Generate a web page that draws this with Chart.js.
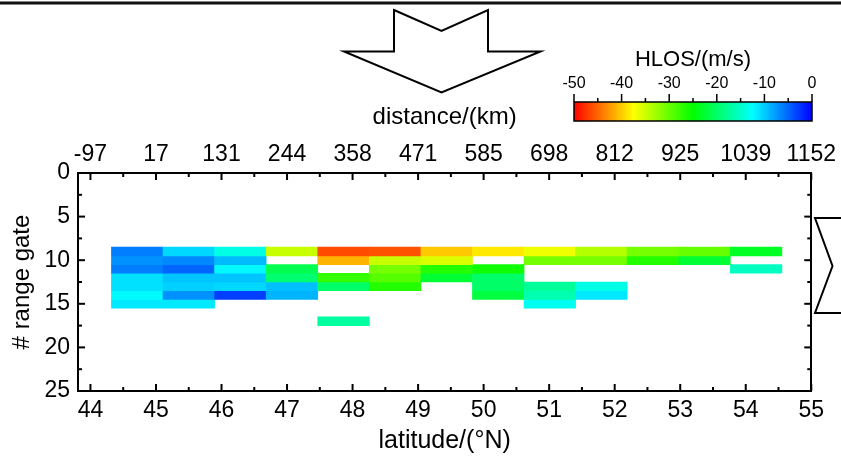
<!DOCTYPE html>
<html>
<head>
<meta charset="utf-8">
<script src="https://cdn.jsdelivr.net/npm/chart.js@4.4.1/dist/chart.umd.min.js"></script>
<style>
  html, body { margin: 0; padding: 0; background: #fff; }
  #c { display: block; }
</style>
</head>
<body>
<canvas id="c" width="841" height="456"></canvas>
<script>
// ---------------- DATA ----------------
const latitudes = [44.714, 45.501, 46.288, 47.075, 47.862, 48.649, 49.436, 50.223, 51.010, 51.797, 52.584, 53.371, 54.158];
const gates = [9, 10, 11, 12, 13, 14, 15, 17];
const hlosGate9  = [-6.2, -10.6, -13.8, -34.8, -46.3, -46.0, -40.2, -38.6, -36.7, -33.8, -30.8, -30.0, -23.3];
const hlosGate10 = [-7.2, -6.7, -9.2, null, -41.2, -34.8, -35.8, null, -30.8, -30.8, -26.7, -22.5, null];
const hlosGate11 = [-6.2, -5.0, -12.2, -21.2, null, -30.8, -26.7, -25.8, null, null, null, null, -15.6];
const hlosGate12 = [-11.0, -9.6, -9.6, -19.5, -27.5, -29.2, -22.5, -20.0, null, null, null, null, null];
const hlosGate13 = [-11.0, -10.2, -10.6, -9.4, -20.0, -26.7, null, -20.0, -17.5, -13.8, null, null, null];
const hlosGate14 = [-12.3, -7.1, -3.1, -8.8, null, null, null, -21.8, -16.4, -11.4, null, null, null];
const hlosGate15 = [-11.4, -11.4, null, null, null, null, null, null, -13.2, null, null, null, null];
const hlosGate17 = [null, null, null, null, -17.2, null, null, null, null, null, null, null, null];
const hlosRows = [hlosGate9, hlosGate10, hlosGate11, hlosGate12, hlosGate13, hlosGate14, hlosGate15, hlosGate17];

const latTicks = [44, 45, 46, 47, 48, 49, 50, 51, 52, 53, 54, 55];
const distanceLabels = ['-97', '17', '131', '244', '358', '471', '585', '698', '812', '925', '1039', '1152'];
const gateTicks = [0, 5, 10, 15, 20, 25];
const colorbarTicks = [-50, -40, -30, -20, -10, 0];
const colorbarMinorTicks = [-45, -35, -25, -15, -5];

// ---------------- STYLE ----------------
const FONT = '"Liberation Sans", Arial, Helvetica, sans-serif';
const HLOS_MIN = -50, HLOS_MAX = 0;
const cmapStops = [
  [0.00, [255, 0, 0]],
  [0.25, [255, 255, 0]],
  [0.50, [0, 255, 0]],
  [0.75, [0, 255, 255]],
  [1.00, [0, 0, 255]]
];
function hlosColor(v) {
  let t = (v - HLOS_MIN) / (HLOS_MAX - HLOS_MIN);
  t = Math.max(0, Math.min(1, t));
  for (let i = 1; i < cmapStops.length; i++) {
    const [t1, c1] = cmapStops[i];
    const [t0, c0] = cmapStops[i - 1];
    if (t <= t1) {
      const f = (t - t0) / (t1 - t0);
      const c = c0.map((a, k) => Math.round(a + (c1[k] - a) * f));
      return `rgb(${c[0]},${c[1]},${c[2]})`;
    }
  }
  return 'rgb(0,0,255)';
}

const datasets = gates.map((g, gi) => ({
  label: 'gate ' + g,
  data: latitudes.map((lat, i) => hlosRows[gi][i] == null ? null : { x: lat, y: [g - 0.5, g + 0.5], v: hlosRows[gi][i] }).filter(d => d),
  backgroundColor: ctx => (ctx.raw && ctx.raw.v != null) ? hlosColor(ctx.raw.v) : '#000',
  borderWidth: 0,
  grouped: false,
  barPercentage: 1,
  categoryPercentage: 1
}));

const decorPlugin = {
  id: 'decor',
  afterDraw(chart) {
    const ctx = chart.ctx;
    const { x, y } = chart.scales;
    const area = chart.chartArea;
    ctx.save();
    // top frame line
    ctx.fillStyle = '#111';
    ctx.fillRect(0, 1.5, chart.width, 3);

    // tick marks (inward)
    ctx.strokeStyle = '#000';
    ctx.lineWidth = 2;
    const MAJ = 7, MIN = 4;
    const line = (x0, y0, x1, y1) => { ctx.beginPath(); ctx.moveTo(x0, y0); ctx.lineTo(x1, y1); ctx.stroke(); };
    latTicks.forEach(v => { const px = x.getPixelForValue(v); line(px, area.bottom, px, area.bottom - MAJ); line(px, area.top, px, area.top + MAJ); });
    for (let i = 1; i < latTicks.length; i++) {
      const px = x.getPixelForValue((latTicks[i - 1] + latTicks[i]) / 2);
      line(px, area.bottom, px, area.bottom - MIN); line(px, area.top, px, area.top + MIN);
    }
    gateTicks.forEach(v => { const py = y.getPixelForValue(v); line(area.left, py, area.left + MAJ, py); line(area.right, py, area.right - MAJ, py); });
    for (let i = 1; i < gateTicks.length; i++) {
      const py = y.getPixelForValue((gateTicks[i - 1] + gateTicks[i]) / 2);
      line(area.left, py, area.left + MIN, py); line(area.right, py, area.right - MIN, py);
    }

    // top arrow (decorative)
    ctx.lineWidth = 2;
    ctx.lineJoin = 'miter';
    ctx.beginPath();
    ctx.moveTo(394, 10); ctx.lineTo(441.5, 31); ctx.lineTo(488, 10); ctx.lineTo(488, 51.5);
    ctx.lineTo(540.5, 51.5); ctx.lineTo(441.5, 92.5); ctx.lineTo(344, 51.5); ctx.lineTo(394, 51.5);
    ctx.closePath();
    ctx.stroke();
    // right arrow (decorative, clipped by canvas edge)
    ctx.beginPath();
    ctx.moveTo(842, 218); ctx.lineTo(815, 218); ctx.lineTo(832.5, 266); ctx.lineTo(815, 313); ctx.lineTo(842, 313);
    ctx.stroke();

    // colorbar
    const cb = { l: 574, r: 812, t: 102, b: 121 };
    const grad = ctx.createLinearGradient(cb.l, 0, cb.r, 0);
    cmapStops.forEach(([t, c]) => grad.addColorStop(t, `rgb(${c[0]},${c[1]},${c[2]})`));
    ctx.fillStyle = grad;
    ctx.fillRect(cb.l, cb.t, cb.r - cb.l, cb.b - cb.t);
    ctx.lineWidth = 1.5;
    ctx.strokeStyle = '#000';
    ctx.strokeRect(cb.l, cb.t, cb.r - cb.l, cb.b - cb.t);
    const cbx = v => cb.l + (v - HLOS_MIN) / (HLOS_MAX - HLOS_MIN) * (cb.r - cb.l);
    colorbarTicks.forEach(v => line(cbx(v), cb.t, cbx(v), cb.t - 8));
    colorbarMinorTicks.forEach(v => line(cbx(v), cb.t, cbx(v), cb.t - 4));
    ctx.fillStyle = '#000';
    ctx.textAlign = 'center';
    ctx.textBaseline = 'middle';
    ctx.font = '16px ' + FONT;
    colorbarTicks.forEach(v => ctx.fillText(String(v), cbx(v), 84));
    ctx.font = '22px ' + FONT;
    ctx.textBaseline = 'alphabetic';
    ctx.fillText('HLOS/(m/s)', 693, 66);
    ctx.restore();
  }
};

Chart.defaults.color = '#000';
Chart.defaults.font.family = FONT;

const tickFont = { size: 23, family: FONT };
const border = { display: true, color: '#000', width: 2 };

new Chart(document.getElementById('c'), {
  type: 'bar',
  data: { datasets },
  plugins: [decorPlugin],
  options: {
    responsive: false,
    animation: false,
    devicePixelRatio: 1,
    layout: { padding: 0 },
    plugins: { legend: { display: false }, tooltip: { enabled: false } },
    scales: {
      x: {
        type: 'linear', position: 'bottom', min: 43.81, max: 55, offset: false,
        afterBuildTicks: s => { s.ticks = latTicks.map(v => ({ value: v })); },
        afterFit: s => { s.height = 65; },
        grid: { display: false, drawTicks: false },
        border,
        ticks: { font: tickFont, padding: 6, autoSkip: false, maxRotation: 0, callback: v => String(v) },
        title: { display: true, text: 'latitude/(°N)', font: { size: 25, family: FONT }, padding: { top: 0, bottom: 0 } }
      },
      x2: {
        type: 'linear', position: 'top', min: 43.81, max: 55, offset: false,
        afterBuildTicks: s => { s.ticks = latTicks.map(v => ({ value: v })); },
        afterFit: s => { s.height = 173; },
        grid: { display: false, drawTicks: false },
        border,
        ticks: { font: tickFont, padding: 5, autoSkip: false, maxRotation: 0, callback: (v, i) => distanceLabels[i] },
        title: { display: true, text: 'distance/(km)', font: { size: 24, family: FONT }, padding: { top: 103, bottom: 0 } }
      },
      y: {
        type: 'linear', position: 'left', min: 0, max: 25, reverse: true,
        afterBuildTicks: s => { s.ticks = gateTicks.map(v => ({ value: v })); },
        afterFit: s => { s.width = 78; },
        grid: { display: false, drawTicks: false },
        border,
        ticks: { font: tickFont, padding: 8, callback: v => String(v) },
        title: { display: true, text: '# range gate', font: { size: 24, family: FONT }, padding: { top: 8, bottom: 0 } }
      },
      y2: {
        type: 'linear', position: 'right', min: 0, max: 25, reverse: true,
        afterFit: s => { s.width = 29; },
        grid: { display: false, drawTicks: false },
        border,
        ticks: { display: false }
      }
    }
  }
});
</script>
</body>
</html>
